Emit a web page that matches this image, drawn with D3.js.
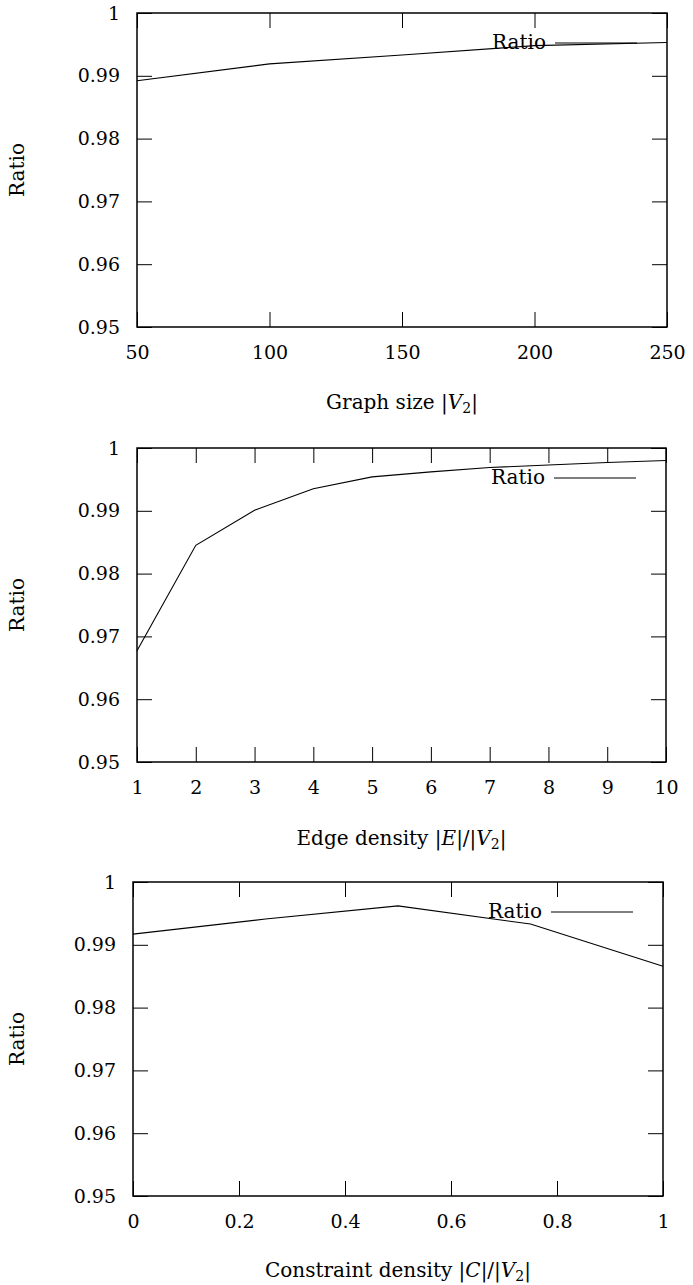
<!DOCTYPE html>
<html>
<head>
<meta charset="utf-8">
<script src="https://cdn.jsdelivr.net/npm/d3@7"></script>
<style>
  body { margin: 0; background: #fff; }
  svg text { font-family: "DejaVu Serif", "Liberation Serif", serif; fill: #000; }
</style>
</head>
<body>
<div id="chart"></div>
<script>
// data
var sizeX = [50, 100, 150, 200, 250];
var sizeRatio = [0.9892, 0.9919, 0.9933, 0.9948, 0.9953];

var edgeX = [1, 2, 3, 4, 5, 6, 7, 8, 9, 10];
var edgeRatio = [0.9677, 0.9845, 0.9901, 0.9935, 0.9954, 0.9962, 0.9969, 0.9973, 0.9977, 0.9980];

var consX = [0, 0.25, 0.5, 0.75, 1];
var consRatio = [0.9917, 0.9941, 0.9962, 0.9933, 0.9866];

var yTicks = [0.95, 0.96, 0.97, 0.98, 0.99, 1];
var sizeTicks = [50, 100, 150, 200, 250];
var edgeTicks = [1, 2, 3, 4, 5, 6, 7, 8, 9, 10];
var consTicks = [0, 0.2, 0.4, 0.6, 0.8, 1];

var svgWidth = 693, svgHeight = 1285;
var fontSize = 19;
var labelSize = 20;
var serif = '"DejaVu Serif", "Liberation Serif", serif';

var svg = d3.select("#chart").append("svg")
  .attr("width", svgWidth)
  .attr("height", svgHeight);

// one panel per measurement
function drawPanel(opts) {
  var left = opts.left, top = opts.top, w = opts.width, h = opts.height;

  var g = svg.append("g")
    .attr("transform", `translate(${left}, ${top})`);

  var x = d3.scaleLinear().domain(opts.xDomain).range([0, w]);
  var y = d3.scaleLinear().domain([0.95, 1]).range([h, 0]);

  var yFmt = d => d === 1 ? "1" : d3.format(".2f")(d);

  // tick marks inside on all four sides
  g.append("g")
    .attr("transform", `translate(0, ${h})`)
    .call(d3.axisBottom(x).tickValues(opts.xTicks).tickSizeInner(-15).tickSizeOuter(0)
      .tickPadding(19).tickFormat(opts.xFmt));
  g.append("g")
    .call(d3.axisTop(x).tickValues(opts.xTicks).tickSizeInner(-15).tickSizeOuter(0).tickFormat(""));
  g.append("g")
    .call(d3.axisLeft(y).tickValues(yTicks).tickSizeInner(-15).tickSizeOuter(0)
      .tickPadding(17).tickFormat(yFmt));
  g.append("g")
    .attr("transform", `translate(${w}, 0)`)
    .call(d3.axisRight(y).tickValues(yTicks).tickSizeInner(-15).tickSizeOuter(0).tickFormat(""));

  g.selectAll(".domain").remove();
  g.selectAll("g").attr("font-family", null).attr("font-size", null);
  g.selectAll(".tick line").attr("stroke", "#000").attr("stroke-width", 1);
  g.selectAll(".tick text")
    .style("font-family", serif)
    .style("font-size", fontSize + "px")
    .attr("fill", "#000");

  // frame
  g.append("rect")
    .attr("x", 0).attr("y", 0)
    .attr("width", w).attr("height", h)
    .attr("fill", "none")
    .attr("stroke", "#000")
    .attr("stroke-width", 1.5);

  // data line
  var pts = opts.xs.map((v, i) => [v, opts.ys[i]]);
  var line = d3.line().x(d => x(d[0])).y(d => y(d[1]));
  g.append("path")
    .datum(pts)
    .attr("d", line)
    .attr("fill", "none")
    .attr("stroke", "#000")
    .attr("stroke-width", 1.1);

  // legend
  g.append("text")
    .attr("x", w - 121)
    .attr("y", 30)
    .attr("dy", "0.32em")
    .attr("text-anchor", "end")
    .style("font-family", serif)
    .style("font-size", labelSize + "px")
    .text("Ratio");
  g.append("line")
    .attr("x1", w - 112).attr("x2", w - 30)
    .attr("y1", 30).attr("y2", 30)
    .attr("stroke", "#000")
    .attr("stroke-width", 1.1);

  // y label
  svg.append("text")
    .attr("transform", `translate(24, ${top + h / 2}) rotate(-90)`)
    .attr("text-anchor", "middle")
    .style("font-family", serif)
    .style("font-size", labelSize + "px")
    .text("Ratio");

  // x label
  var xl = svg.append("text")
    .attr("x", left + w / 2)
    .attr("y", opts.xLabelY)
    .attr("text-anchor", "middle")
    .style("font-family", serif)
    .style("font-size", labelSize + "px");
  opts.xLabel(xl);
}

// helper for |V2| style labels
function addV2(t) {
  t.append("tspan").text("|");
  t.append("tspan").style("font-style", "italic").text("V");
  t.append("tspan").attr("dy", 4).style("font-size", "14px").text("2");
  t.append("tspan").attr("dy", -4).text("|");
}

drawPanel({
  left: 137, top: 13, width: 530, height: 314,
  xDomain: [50, 250], xTicks: sizeTicks, xFmt: d3.format("d"),
  xs: sizeX, ys: sizeRatio, xLabelY: 409,
  xLabel: function(t) {
    t.append("tspan").text("Graph size ");
    addV2(t);
  }
});

drawPanel({
  left: 137, top: 448, width: 529, height: 314,
  xDomain: [1, 10], xTicks: edgeTicks, xFmt: d3.format("d"),
  xs: edgeX, ys: edgeRatio, xLabelY: 845,
  xLabel: function(t) {
    t.append("tspan").text("Edge density |");
    t.append("tspan").style("font-style", "italic").text("E");
    t.append("tspan").text("|/");
    addV2(t);
  }
});

drawPanel({
  left: 133, top: 882, width: 530, height: 314,
  xDomain: [0, 1], xTicks: consTicks, xFmt: d => d3.format("")(d),
  xs: consX, ys: consRatio, xLabelY: 1277,
  xLabel: function(t) {
    t.append("tspan").text("Constraint density |");
    t.append("tspan").style("font-style", "italic").text("C");
    t.append("tspan").text("|/");
    addV2(t);
  }
});
</script>
</body>
</html>
